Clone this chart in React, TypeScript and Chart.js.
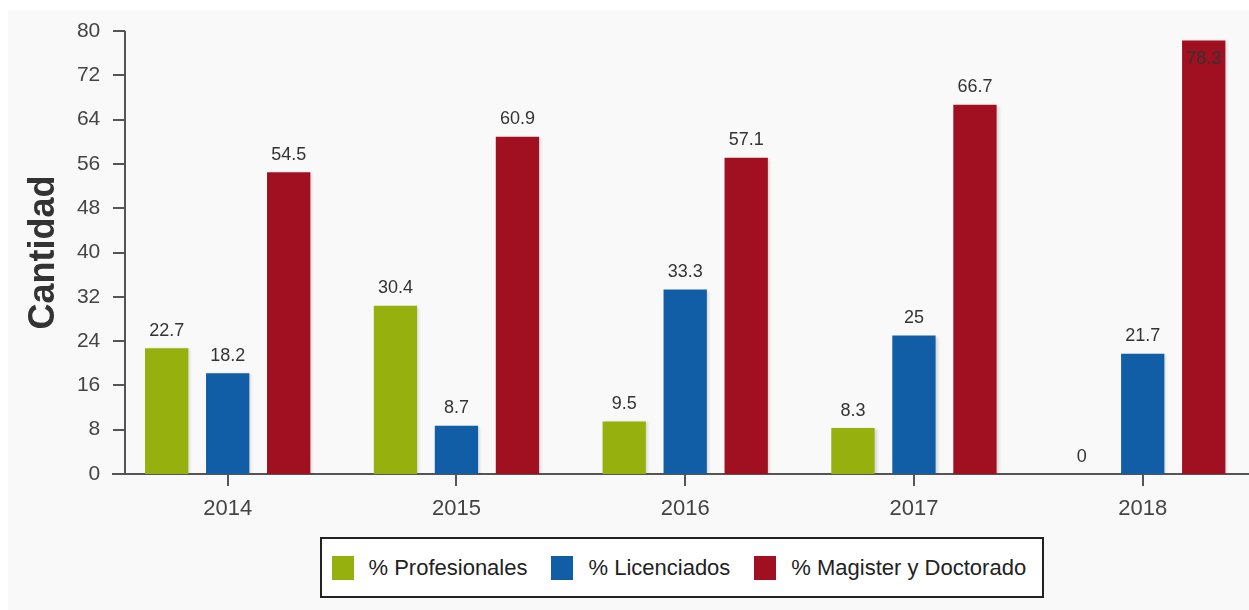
import React, { useEffect, useRef } from 'react';
import { Chart, registerables } from 'chart.js';

Chart.register(...registerables);

const categories = ['2014', '2015', '2016', '2017', '2018'];
const profesionales = [22.7, 30.4, 9.5, 8.3, 0];
const licenciados = [18.2, 8.7, 33.3, 25, 21.7];
const magister = [54.5, 60.9, 57.1, 66.7, 78.3];
const seriesNames = ['% Profesionales', '% Licenciados', '% Magister y Doctorado'];
const seriesColors = ['#96b00d', '#125ea6', '#a11020'];
const yTicks = [0, 8, 16, 24, 32, 40, 48, 56, 64, 72, 80];
const yTitle = 'Cantidad';

const FONT = '"Liberation Sans", Arial, sans-serif';
const CANVAS_W = 1260;
const CANVAS_H = 600;

const barShadow = {
  id: 'barShadow',
  beforeDatasetsDraw(chart: any) {
    const ctx = chart.ctx;
    ctx.save();
    ctx.shadowColor = 'rgba(0,0,0,0.14)';
    ctx.shadowBlur = 3;
    ctx.shadowOffsetX = 2;
    ctx.shadowOffsetY = 1;
  },
  afterDatasetsDraw(chart: any) {
    chart.ctx.restore();
  },
};

const valueLabels = {
  id: 'valueLabels',
  afterDatasetsDraw(chart: any) {
    const ctx = chart.ctx;
    const area = chart.chartArea;
    ctx.save();
    ctx.font = `18px ${FONT}`;
    ctx.fillStyle = '#333';
    ctx.textAlign = 'center';
    ctx.textBaseline = 'alphabetic';
    chart.data.datasets.forEach((ds: any, di: number) => {
      const meta = chart.getDatasetMeta(di);
      meta.data.forEach((el: any, i: number) => {
        const v = ds.data[i];
        const text = String(v);
        let y = el.y - 12.5;
        if (y - 14 < area.top) y = el.y + 24;
        ctx.fillText(text, el.x, y);
      });
    });
    ctx.restore();
  },
};

const yAxisLine = {
  id: 'yAxisLine',
  afterDraw(chart: any) {
    const ctx = chart.ctx;
    const area = chart.chartArea;
    const ys = chart.scales.y;
    const axisX = Math.round(area.left + 11.7);
    ctx.save();
    ctx.strokeStyle = '#555';
    ctx.lineWidth = 2;
    ctx.beginPath();
    ctx.moveTo(axisX, ys.getPixelForValue(yTicks[yTicks.length - 1]));
    ctx.lineTo(axisX, area.bottom + 1);
    ctx.stroke();
    yTicks.forEach((v) => {
      const y = Math.round(ys.getPixelForValue(v));
      ctx.beginPath();
      ctx.moveTo(Math.round(area.left), y);
      ctx.lineTo(axisX, y);
      ctx.stroke();
    });
    ctx.restore();
  },
};

export default function App() {
  const ref = useRef<HTMLCanvasElement | null>(null);

  useEffect(() => {
    if (!ref.current) return;
    const seriesData = [profesionales, licenciados, magister];
    const chart = new Chart(ref.current, {
      type: 'bar',
      data: {
        labels: categories,
        datasets: seriesNames.map((name, i) => ({
          label: name,
          data: seriesData[i],
          backgroundColor: seriesColors[i],
          borderWidth: 0,
          categoryPercentage: 0.8,
          barPercentage: 0.71,
        })),
      },
      options: {
        responsive: false,
        animation: false,
        devicePixelRatio: 1,
        layout: { padding: { left: 0, top: 21, right: CANVAS_W - 1249.1, bottom: 0 } },
        plugins: {
          legend: { display: false },
          tooltip: { enabled: false },
        },
        scales: {
          x: {
            afterFit: (s: any) => {
              s.height = 136;
              s.paddingLeft = 0;
              s.paddingRight = 0;
            },
            grid: {
              display: true,
              offset: false,
              drawOnChartArea: false,
              drawTicks: true,
              tickLength: 12,
              tickWidth: 2,
              tickColor: '#555',
              lineWidth: 2,
              color: '#555',
            },
            border: { display: true, color: '#555', width: 2 },
            ticks: { padding: 10, color: '#444', font: { family: FONT, size: 22 } },
          },
          y: {
            min: 0,
            max: 80,
            afterBuildTicks: (s: any) => {
              s.ticks = yTicks.map((v) => ({ value: v }));
            },
            afterFit: (s: any) => {
              s.width = 105.3;
              s.paddingTop = 0;
              s.paddingBottom = 0;
            },
            grid: { display: false, drawTicks: false },
            border: { display: false },
            ticks: { padding: 13, color: '#444', font: { family: FONT, size: 21 } },
            title: {
              display: true,
              text: yTitle,
              color: '#333',
              font: { family: FONT, size: 36, weight: 'bold' },
              padding: { top: 14, bottom: 0 },
            },
          },
        },
      } as any,
      plugins: [barShadow, valueLabels, yAxisLine],
    });
    return () => chart.destroy();
  }, []);

  return (
    <div
      style={{
        position: 'fixed',
        left: 8,
        top: 10,
        width: 1241,
        height: 600,
        overflow: 'hidden',
        background: '#f9f9f9',
      }}
    >
      <canvas
        ref={ref}
        width={CANVAS_W}
        height={CANVAS_H}
        style={{ position: 'absolute', left: 0, top: 0, width: CANVAS_W, height: CANVAS_H }}
      />
      <div
        style={{
          position: 'absolute',
          left: 312,
          top: 527,
          width: 724,
          height: 61,
          boxSizing: 'border-box',
          border: '2px solid #222',
          background: '#ffffff',
          display: 'flex',
          alignItems: 'center',
          paddingLeft: 9.5,
          fontFamily: FONT,
          fontSize: 22,
          color: '#222',
          whiteSpace: 'nowrap',
        }}
      >
        {seriesNames.map((name, i) => (
          <div key={name} style={{ display: 'flex', alignItems: 'center', marginRight: 24 }}>
            <span
              style={{
                display: 'inline-block',
                width: 22,
                height: 24,
                background: seriesColors[i],
                marginRight: 15,
              }}
            />
            <span>{name}</span>
          </div>
        ))}
      </div>
    </div>
  );
}
